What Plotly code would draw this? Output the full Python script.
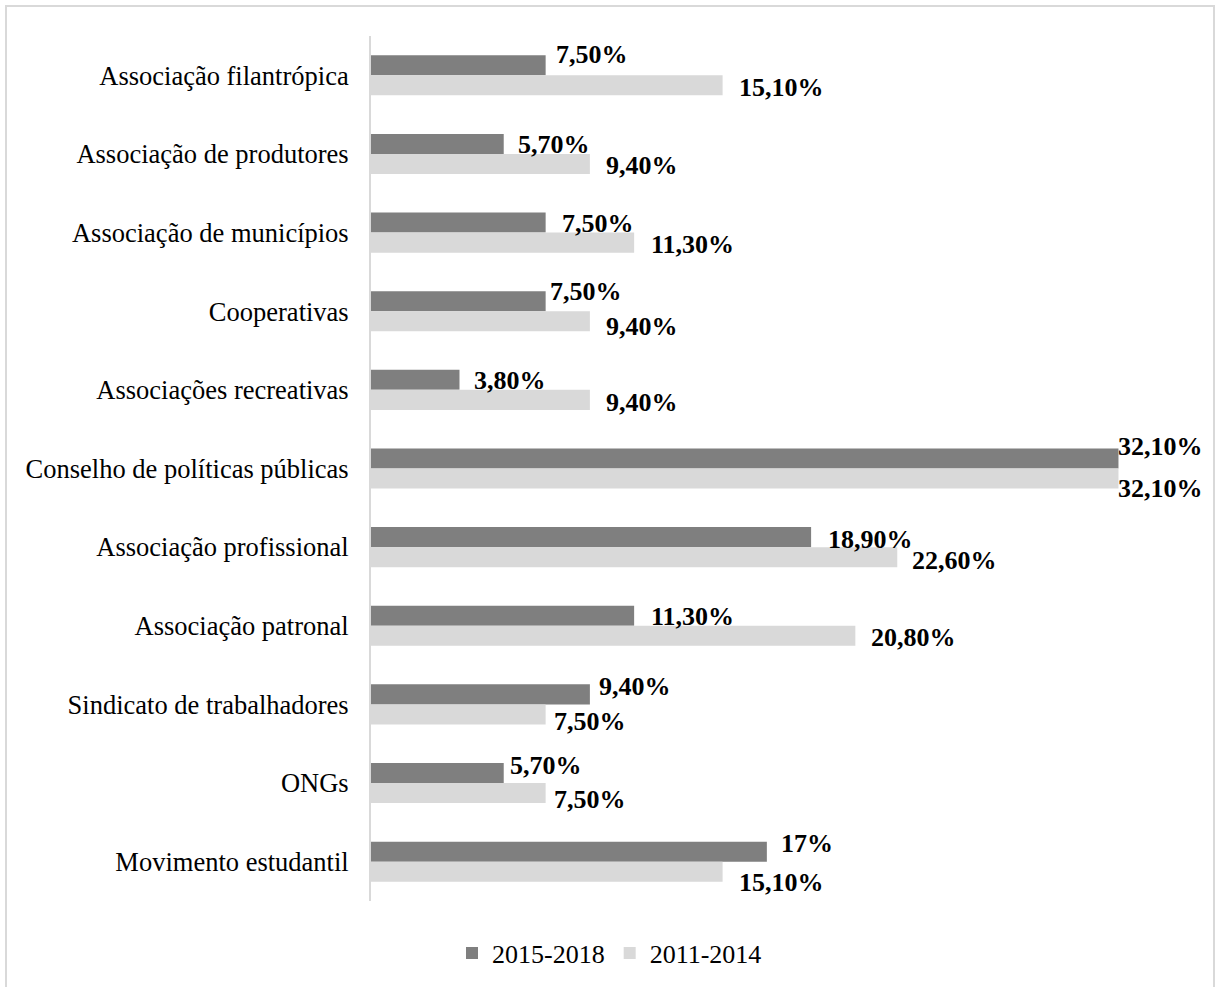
import plotly.graph_objects as go

# Participation by type of organization, two periods
categories = [
    "Associação filantrópica",
    "Associação de produtores",
    "Associação de municípios",
    "Cooperativas",
    "Associações recreativas",
    "Conselho de políticas públicas",
    "Associação profissional",
    "Associação patronal",
    "Sindicato de trabalhadores",
    "ONGs",
    "Movimento estudantil",
]
series_names = ["2015-2018", "2011-2014"]
values_2015_2018 = [7.5, 5.7, 7.5, 7.5, 3.8, 32.1, 18.9, 11.3, 9.4, 5.7, 17.0]
values_2011_2014 = [15.1, 9.4, 11.3, 9.4, 9.4, 32.1, 22.6, 20.8, 7.5, 7.5, 15.1]

# Hand-placed label nudges (x px, y px) for each bar label
nudges_2015_2018 = [(10, 11), (14, -1), (16, -1), (4, 10), (15, -1), (0, 12),
                    (17, -2), (17, -1), (9, 8), (6, 8), (14, 8)]
nudges_2011_2014 = [(16, -2), (16, -2), (17, -2), (16, -5), (16, -3), (0, -10),
                    (15, -3), (16, -2), (8, -7), (8, -6), (16, -11)]

DARK = "#7f7f7f"
LIGHT = "#d9d9d9"
FONT = "Liberation Serif, Times New Roman, serif"

W, H = 1218, 987
ML, MR, MT, MB = 371, 32, 36, 85
PW = W - ML - MR
PH = H - MT - MB


def fmt(v):
    if float(v).is_integer():
        return f"{int(v)}%"
    return f"{v:.2f}".replace(".", ",") + "%"


fig = go.Figure()
fig.add_trace(go.Bar(y=categories, x=values_2015_2018, name=series_names[0],
                     orientation="h", marker=dict(color=DARK, line=dict(width=0))))
fig.add_trace(go.Bar(y=categories, x=values_2011_2014, name=series_names[1],
                     orientation="h", marker=dict(color=LIGHT, line=dict(width=0))))

BARGAP = 0.49
half = (1 - BARGAP) / 4  # center offset of each bar within its group

annotations = []
for i, cat in enumerate(categories):
    for vals, nudges, off in ((values_2015_2018, nudges_2015_2018, -half),
                              (values_2011_2014, nudges_2011_2014, half)):
        v = vals[i]
        dx, dy = nudges[i]
        annotations.append(dict(
            x=v, y=i + off, xref="x", yref="y", text=fmt(v),
            showarrow=False, xanchor="left", yanchor="middle",
            xshift=dx - 2, yshift=dy,
            font=dict(family=FONT, size=26, color="#000000", weight="bold"),
        ))


def px_x(p):
    return (p - ML) / PW


def px_y(p):
    return (H - MB - p) / PH


shapes = [
    dict(type="rect", xref="paper", yref="paper",
         x0=px_x(6), x1=px_x(1214), y0=px_y(6), y1=px_y(995),
         line=dict(color="#d9d9d9", width=2), fillcolor="rgba(0,0,0,0)", layer="below"),
]

fig.update_layout(
    width=W, height=H,
    margin=dict(l=ML, r=MR, t=MT, b=MB),
    paper_bgcolor="white", plot_bgcolor="white",
    barmode="group", bargap=BARGAP, bargroupgap=0,
    font=dict(family=FONT, size=26, color="#000000"),
    xaxis=dict(range=[0, 35], visible=False, showgrid=False, zeroline=False),
    yaxis=dict(autorange="reversed", showgrid=False, zeroline=False,
               showline=True, linecolor="#d9d9d9", linewidth=2,
               ticks="", ticklabelstandoff=15,
               tickfont=dict(family=FONT, size=26.5, color="#000000")),
    legend=dict(orientation="h", x=px_x(452), xanchor="left",
                y=px_y(953), yanchor="middle",
                font=dict(family=FONT, size=26, color="#000000"),
                itemwidth=30, traceorder="normal"),
    annotations=annotations,
    shapes=shapes,
    showlegend=True,
)

fig.write_html("out.html")
